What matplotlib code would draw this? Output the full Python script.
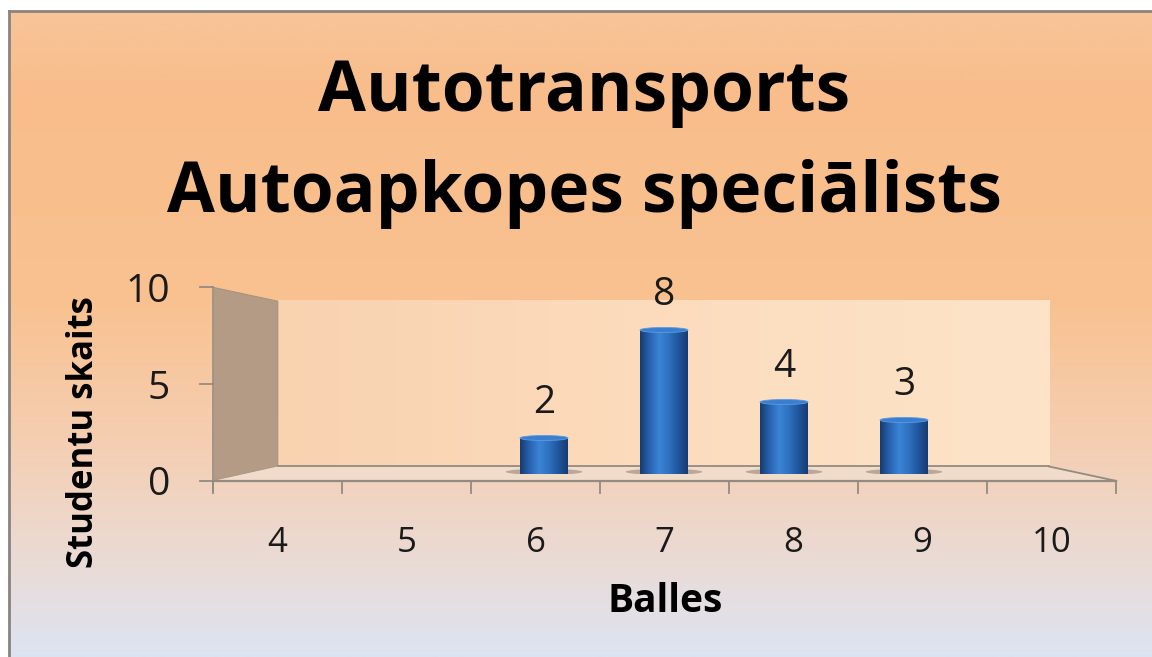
import numpy as np
import matplotlib
matplotlib.use("Agg")
from matplotlib import pyplot as plt
from matplotlib.colors import LinearSegmentedColormap
from matplotlib.patches import Polygon, Ellipse

title_lines = ["Autotransports", "Autoapkopes speciālists"]
grades = [4, 5, 6, 7, 8, 9, 10]
students = [0, 0, 2, 8, 4, 3, 0]
y_ticks = [0, 5, 10]
x_title = "Balles"
y_title = "Studentu skaits"

plt.rcParams['font.family'] = ['Open Sans', 'DejaVu Sans']

# fake 3d: front / back plane scale about a vanishing point (data units)
FRONT, BACK = 1.075, 0.918
VX, VY = 6.93, 5.1
EDGE = '#958a80'


def proj(x, y, s):
    return VX + s * (x - VX), VY + s * (y - VY)


fig = plt.figure(figsize=(11.52, 6.57), dpi=100)
fig.patch.set_facecolor('white')

# slide background gradient
bg = fig.add_axes([9 / 1152, 0, 1 - 9 / 1152, 1 - 11 / 657])
bg_cmap = LinearSegmentedColormap.from_list('bg', [
    (0.0, '#f8c598'), (0.12, '#f8bd8b'), (0.45, '#f9c290'),
    (0.68, '#f4cfb4'), (0.82, '#ecd9cf'), (0.92, '#e4dfe3'), (1.0, '#dde4f0')])
bg.imshow(np.linspace(0, 1, 256)[:, None], cmap=bg_cmap, aspect='auto',
          extent=(0, 1, 0, 1))
bg.set_xticks([])
bg.set_yticks([])
for side in ['right', 'bottom']:
    bg.spines[side].set_visible(False)
for side in ['left', 'top']:
    bg.spines[side].set_color('#8a8380')
    bg.spines[side].set_linewidth(2)

ax = fig.add_axes([244 / 1152, 183 / 657, 840 / 1152, 180 / 657])
ax.set_xlim(3.5, 10.5)
ax.set_ylim(0, 10)
ax.axis('off')

x0, x1 = grades[0] - 0.5, grades[-1] + 0.5
y0, y1 = y_ticks[0], y_ticks[-1]

# back wall
bx0, by0 = proj(x0, y0, BACK)
bx1, by1 = proj(x1, y1, BACK)
wall_cmap = LinearSegmentedColormap.from_list('wall', ['#f9d2b0', '#fcdcbd', '#fde4c9'])
ax.imshow(np.linspace(0, 1, 256)[None, :], cmap=wall_cmap, aspect='auto',
          extent=(bx0, bx1, by0, by1), zorder=1)

# side wall
fx0, fy0 = proj(x0, y0, FRONT)
fx1, fy1 = proj(x1, y1, FRONT)
side = Polygon([(fx0, fy0), (fx0, fy1), (bx0, by1), (bx0, by0)], closed=True,
               facecolor='#b49b86', edgecolor='#a8927f', lw=0.8, clip_on=False, zorder=2)
ax.add_patch(side)

# floor
floor = Polygon([(fx0, fy0), (fx1, fy0), (bx1, by0), (bx0, by0)], closed=True,
                facecolor='#f1dccb', edgecolor='none', clip_on=False, zorder=2)
ax.add_patch(floor)
ax.plot([fx0, fx1], [fy0, fy0], color=EDGE, lw=1.6, clip_on=False, zorder=3)
ax.plot([bx0, bx1], [by0, by0], color=EDGE, lw=1.3, clip_on=False, zorder=3)
ax.plot([bx1, fx1], [by0, fy0], color=EDGE, lw=1.3, clip_on=False, zorder=3)
ax.plot([fx0, fx0], [fy0 - 0.6, fy1], color='#a09488', lw=1.3, clip_on=False, zorder=3)

# y ticks + labels
for v in y_ticks:
    tx, ty = proj(x0, v, FRONT)
    ax.plot([tx - 0.11, tx], [ty, ty], color=EDGE, lw=1.3, clip_on=False, zorder=3)
    ax.annotate(str(v), (tx, ty), xytext=(-31, -10.5), textcoords='offset points',
                ha='right', va='baseline', fontsize=28, color='#1a1a1a',
                annotation_clip=False)

# x ticks + labels
for k in range(len(grades) + 1):
    tx, ty = proj(x0 + k, y0, FRONT)
    ax.plot([tx, tx], [ty, ty - 0.65], color=EDGE, lw=1.3, clip_on=False, zorder=3)
for g in grades:
    tx, ty = proj(g, y0, FRONT)
    ax.annotate(str(g), (tx, ty), xytext=(0, -51), textcoords='offset points',
                ha='center', va='baseline', fontsize=25, color='#1a1a1a',
                annotation_clip=False)

# cylinder bars
bar_cmap = LinearSegmentedColormap.from_list('cyl', [
    '#173c70', '#2863b0', '#3a84d6', '#2f72c0', '#20569c', '#163c73'])
w = 0.4
for g, n in zip(grades, students):
    if n == 0:
        continue
    ax.add_patch(Ellipse((g, 0.12), w * 1.6, 0.34, facecolor='#7a665a', alpha=0.45,
                         edgecolor='none', zorder=3.5))
bars = ax.bar(grades, students, width=w, color='none', zorder=5)
for rect, n in zip(bars, students):
    if n == 0:
        continue
    xl = rect.get_x()
    im = ax.imshow(np.linspace(0, 1, 128)[None, :], cmap=bar_cmap, aspect='auto',
                   extent=(xl, xl + w, 0, n), zorder=5)
    im.set_clip_path(rect)
    ax.add_patch(Ellipse((xl + w / 2, n), w, 0.28, facecolor='#3a7fcf',
                         edgecolor='#5c9be0', lw=0.6, zorder=6))
    ax.annotate(str(n), (xl + w / 2, n), xytext=(0, 18), textcoords='offset points',
                ha='center', va='baseline', fontsize=28, color='#1a1a1a',
                annotation_clip=False, zorder=7)
ax.set_xlim(3.5, 10.5)
ax.set_ylim(0, 10)

# titles
fig.text(584 / 1152, 1 - 111 / 657, title_lines[0], ha='center', va='baseline',
         fontsize=50, fontweight='bold', color='black')
fig.text(584 / 1152, 1 - 212 / 657, title_lines[1], ha='center', va='baseline',
         fontsize=50, fontweight='bold', color='black')
fig.text(665 / 1152, 1 - 612 / 657, x_title, ha='center', va='baseline',
         fontsize=28, fontweight='bold', color='black')
fig.text(84 / 1152, 1 - 432 / 657, y_title, ha='center', va='center', rotation=90,
         fontsize=25, fontweight='bold', color='black')

fig.savefig('out.png', dpi=100, facecolor=fig.get_facecolor())
